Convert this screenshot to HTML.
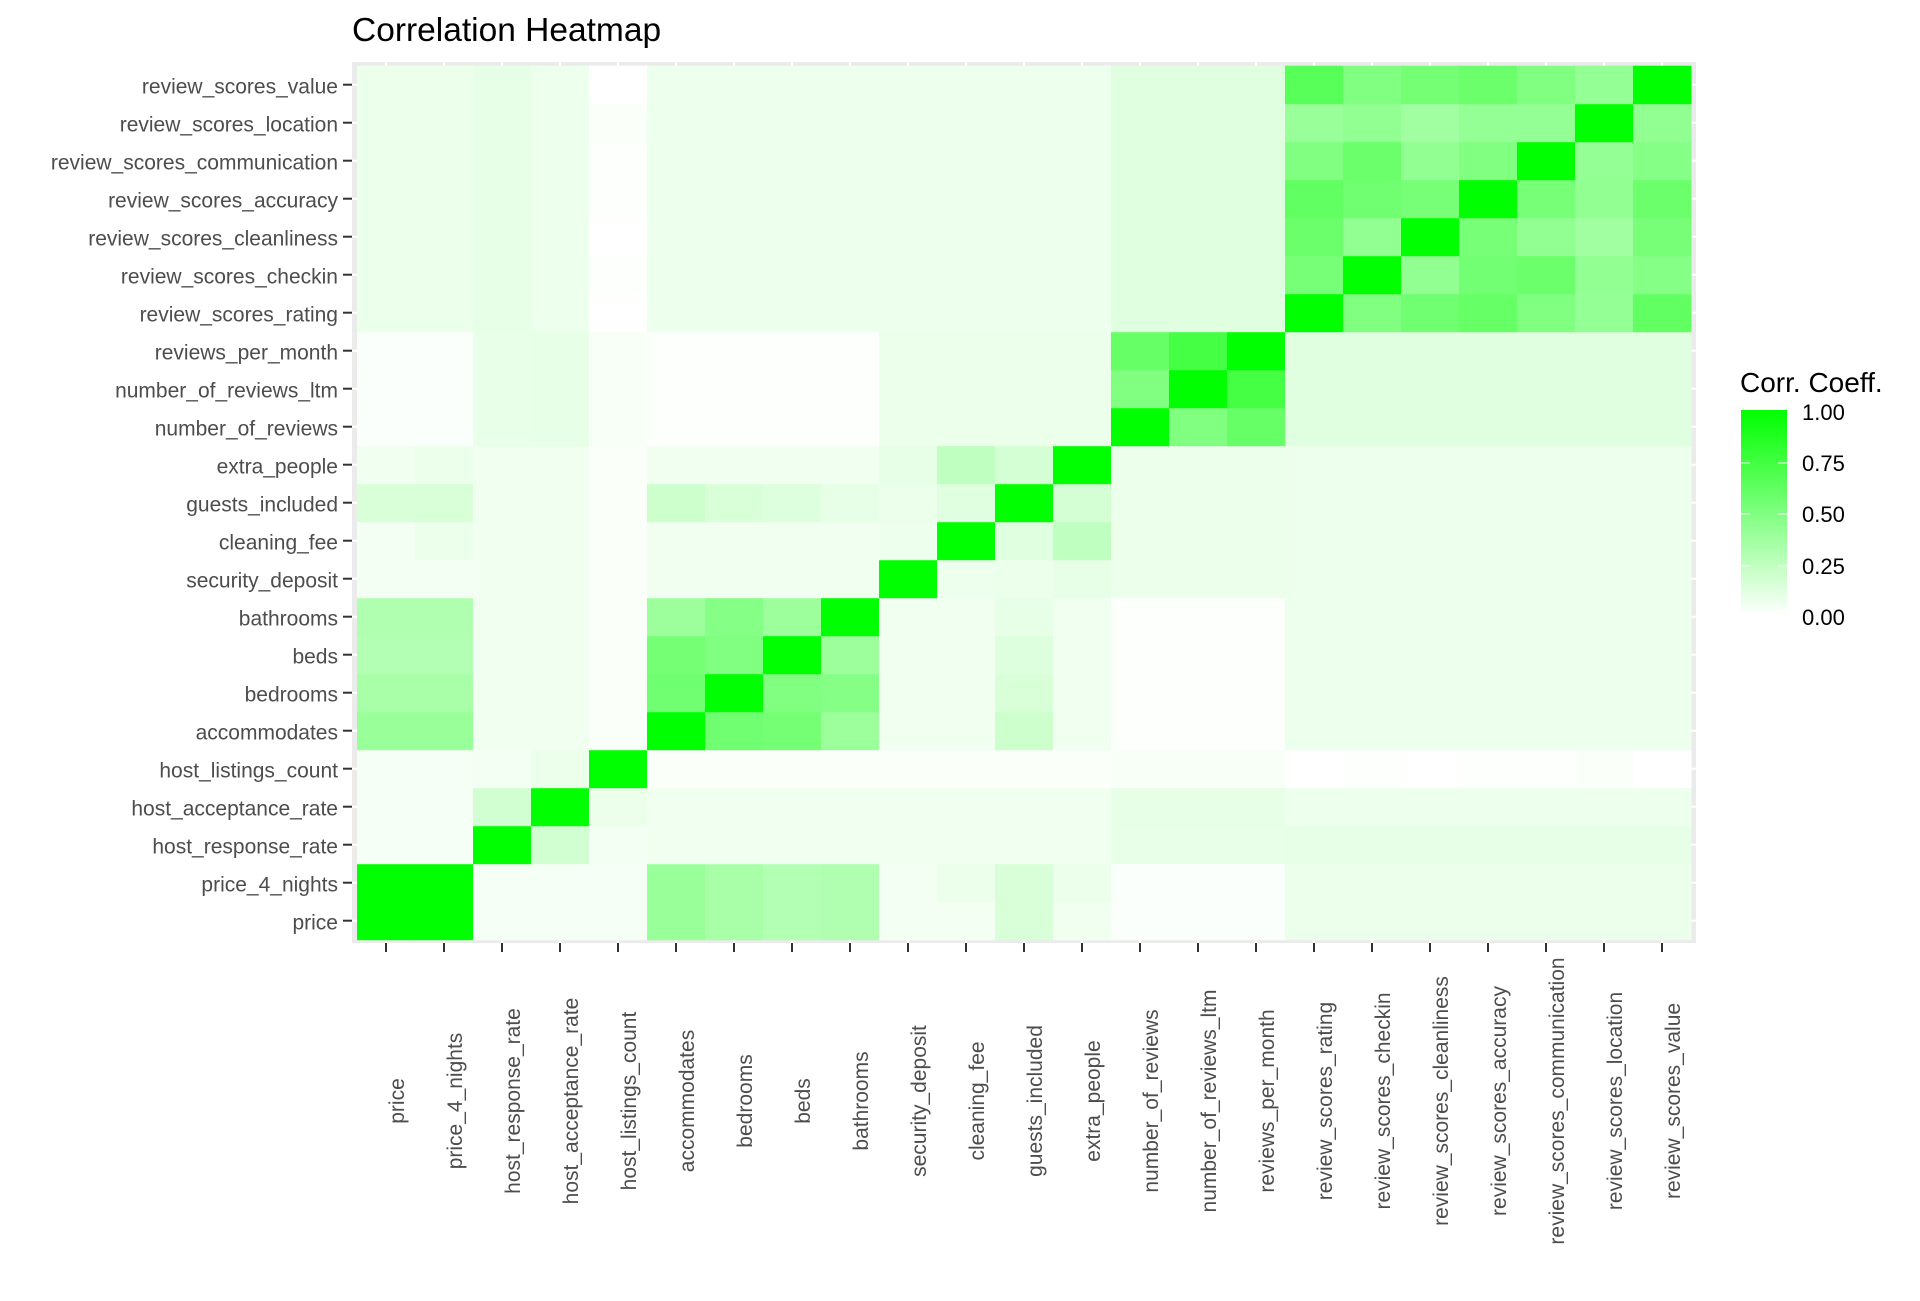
<!DOCTYPE html>
<html><head><meta charset="utf-8">
<style>
html,body{margin:0;padding:0;background:#fff;}
svg text{font-family:"Liberation Sans",Arial,sans-serif;}
</style></head>
<body>
<svg id="s" width="1920" height="1296" xmlns="http://www.w3.org/2000/svg">
<rect width="1920" height="1296" fill="#fff"/>
<text x="352" y="41" font-size="33.5" fill="#000">Correlation Heatmap</text>
<rect x="352" y="62" width="1344" height="881" fill="#EBEBEB"/>
<g id="grid"></g>
<g id="tiles"></g>
<g id="axes"></g>
<defs><linearGradient id="g" x1="0" y1="1" x2="0" y2="0">
<stop offset="0" stop-color="#ffffff"/><stop offset="0.098" stop-color="#ffffff"/><stop offset="1" stop-color="#00ff00"/></linearGradient></defs>
<text x="1740" y="392" font-size="28" fill="#000">Corr. Coeff.</text>
<rect x="1741" y="410" width="46" height="228" fill="url(#g)"/>
<g stroke="#fff" stroke-width="1">
<line x1="1741" y1="463" x2="1750" y2="463"/><line x1="1778" y1="463" x2="1787" y2="463"/>
<line x1="1741" y1="514" x2="1750" y2="514"/><line x1="1778" y1="514" x2="1787" y2="514"/>
<line x1="1741" y1="566" x2="1750" y2="566"/><line x1="1778" y1="566" x2="1787" y2="566"/>
<line x1="1741" y1="617" x2="1750" y2="617"/><line x1="1778" y1="617" x2="1787" y2="617"/>
</g>
<g font-size="22" fill="#000">
<text x="1802" y="420">1.00</text><text x="1802" y="471">0.75</text><text x="1802" y="522">0.50</text><text x="1802" y="574">0.25</text><text x="1802" y="625">0.00</text>
</g>
</svg>
<script>
var N=["price","price_4_nights","host_response_rate","host_acceptance_rate","host_listings_count","accommodates","bedrooms","beds","bathrooms","security_deposit","cleaning_fee","guests_included","extra_people","number_of_reviews","number_of_reviews_ltm","reviews_per_month","review_scores_rating","review_scores_checkin","review_scores_cleanliness","review_scores_accuracy","review_scores_communication","review_scores_location","review_scores_value"];
var n=23,M=[];
function grp(i){if(i<2)return 0;if(i<5)return i;if(i<9)return 5;if(i<13)return 9;if(i<16)return 13;return 16;}
for(var i=0;i<n;i++){M[i]=[];for(var j=0;j<n;j++)M[i][j]=0.06;}
function S(a,b,v){M[a][b]=v;M[b][a]=v;}
for(var i=0;i<n;i++){
 for(var j=0;j<n;j++){
  var gi=grp(i),gj=grp(j),v=0.06;
  var A=Math.min(gi,gj),B=Math.max(gi,gj);
  if(A==0&&B==5)v=0.33;
  else if(A==0&&(B==2||B==3||B==4))v=0.04;
  else if(A==0&&B==13)v=0.015;
  else if(A==0&&B==16)v=0.08;
  else if(A==2&&B==16)v=0.1;
  else if(A==2&&B==13)v=0.09;
  else if(A==3&&B==13)v=0.1;
  else if(A==3&&B==16)v=0.07;
  else if((A==4||B==4))v=0.02;
  else if(A==5&&B==13)v=0.01;
  else if(A==5&&B==16)v=0.07;
  else if(A==9&&B==13)v=0.08;
  else if(A==9&&B==16)v=0.07;
  else if(A==13&&B==16)v=0.12;
  M[i][j]=v;
 }
}
S(0,1,1);
S(0,5,0.4);S(1,5,0.4);S(0,6,0.34);S(1,6,0.34);S(0,7,0.3);S(1,7,0.3);S(0,8,0.31);S(1,8,0.31);
S(0,9,0.05);S(1,9,0.05);S(0,10,0.05);S(1,10,0.08);S(0,11,0.15);S(1,11,0.15);S(0,12,0.06);S(1,12,0.08);
S(2,3,0.18);S(2,4,0.05);S(3,4,0.08);
S(5,6,0.56);S(5,7,0.54);S(5,8,0.39);S(6,7,0.5);S(6,8,0.48);S(7,8,0.39);
S(5,11,0.2);S(6,11,0.15);S(7,11,0.13);S(8,11,0.1);
S(9,10,0.07);S(9,11,0.08);S(9,12,0.1);S(10,11,0.12);S(10,12,0.25);S(11,12,0.17);
S(4,16,0.0);S(4,17,0.01);S(4,18,0.0);S(4,19,0.01);S(4,20,0.01);S(4,21,0.02);S(4,22,0.0);
for(var i=13;i<16;i++)for(var j=0;j<n;j++){if(j==4){S(i,j,0.03);}}
for(var i=13;i<16;i++)for(var j=5;j<9;j++)S(i,j,0.01);
S(13,14,0.5);S(13,15,0.6);S(14,15,0.73);
var R={16:[1,.5,.56,.6,.5,.42,.62],17:[.53,1,.43,.55,.58,.43,.48],18:[.58,.43,1,.53,.43,.37,.53],19:[.62,.56,.53,1,.53,.43,.58],20:[.5,.58,.43,.5,1,.42,.48],21:[.4,.43,.37,.42,.42,1,.43],22:[.65,.5,.54,.58,.5,.42,1]};
for(var r in R)for(var k=0;k<7;k++)M[r][16+k]=R[r][k];
for(var i=0;i<n;i++)M[i][i]=1;
var x0=357,y0=65.7,cw=58,rh=38;
var h="",g="";
for(var k=0;k<n;k++){var cx=x0+cw*(k+0.5),cy=y0+rh*(n-k-0.5);
 g+='<line x1="'+cx+'" y1="62" x2="'+cx+'" y2="943" stroke="#fff" stroke-width="2"/>';
 g+='<line x1="352" y1="'+cy+'" x2="1696" y2="'+cy+'" stroke="#fff" stroke-width="2"/>';}
document.getElementById("grid").innerHTML=g;
for(var r=0;r<n;r++)for(var c=0;c<n;c++){var v=Math.max(0,Math.min(1,M[r][c]));var q=Math.round(255*(1-v));
 h+='<rect x="'+(x0+cw*c)+'" y="'+(y0+rh*(n-1-r))+'" width="'+(cw+0.5)+'" height="'+(rh+0.5)+'" fill="rgb('+q+',255,'+q+')"/>';}
document.getElementById("tiles").innerHTML=h;
var a="";
for(var k=0;k<n;k++){var cy=y0+rh*(n-k-0.5),cx=x0+cw*(k+0.5);
 a+='<line x1="343" y1="'+cy+'" x2="352" y2="'+cy+'" stroke="#333" stroke-width="2"/>';
 a+='<text x="338" y="'+(cy+9)+'" font-size="21" fill="#4D4D4D" text-anchor="end">'+N[k]+'</text>';
 a+='<line x1="'+cx+'" y1="943" x2="'+cx+'" y2="952" stroke="#333" stroke-width="2"/>';
 a+='<text transform="translate('+(cx+18)+',1101) rotate(-90)" font-size="21" fill="#4D4D4D" text-anchor="middle">'+N[k]+'</text>';}
document.getElementById("axes").innerHTML=a;
</script>
</body></html>
